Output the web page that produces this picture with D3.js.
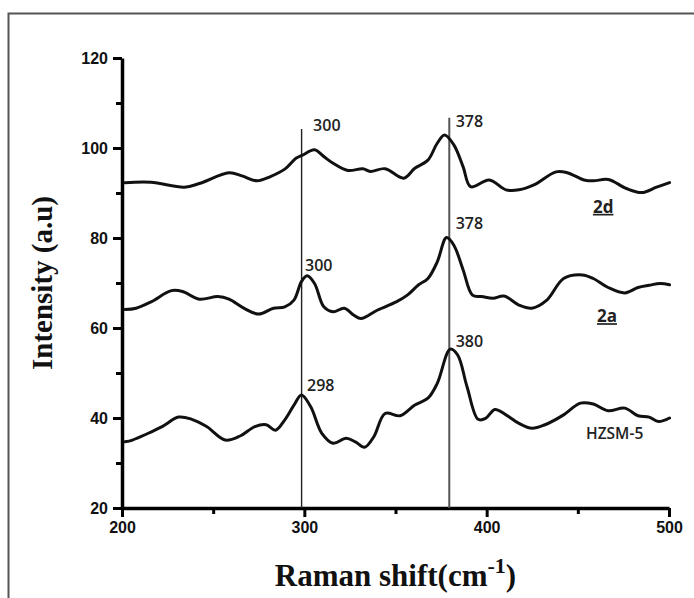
<!DOCTYPE html>
<html lang="en">
<head>
<meta charset="UTF-8">
<title>Raman spectra</title>
<script src="https://cdn.jsdelivr.net/npm/d3@7"></script>
<style>
  body { margin: 0; background: #fff; }
  .tick text { font-family: "Liberation Sans", Arial, sans-serif; font-weight: bold; font-size: 16px; fill: #111; }
  .ann { font-family: "Open Sans", "Noto Sans", sans-serif; font-weight: 600; font-size: 16px; fill: #222; }
  .ttl { font-family: "Liberation Serif", "Times New Roman", serif; font-weight: bold; fill: #111; }
</style>
</head>
<body>
<svg width="694" height="598"></svg>
<script>
// spectra: [Raman shift, intensity]
var hzsm5 = [[201.6,34.7],[205.7,35.1],[213.8,36.5],[222,38.1],[231.1,40.2],[238.3,39.7],[246.4,38.1],[256.6,35.1],[264.8,36],[272.9,38.1],[279.1,38.5],[284.2,37.3],[289.3,39.6],[294.4,42.9],[298.4,45.1],[303.5,42.5],[309.6,36.6],[315.8,34.4],[322.9,35.5],[328,34.7],[333.1,33.5],[338.2,35.9],[344.3,41],[352.5,40.5],[360.6,42.9],[367.8,44.4],[372.9,47.7],[380,55.3],[384.1,54],[389.2,47],[395.3,39.7],[399.4,39.9],[404.5,41.9],[410.6,40.7],[417.7,38.8],[424.9,37.7],[432,38.5],[442.2,40.7],[451.4,43.3],[458.5,43.1],[466.6,41.6],[475.8,42.2],[483,40.5],[489.1,40.2],[494.2,39.2],[500.3,40]];
var s2a = [[201.6,64.1],[207.7,64.4],[215.9,65.8],[227.1,68.3],[233.2,68.1],[242.4,66.4],[252.6,67],[258.7,66.4],[266.8,64.4],[275,63.1],[283.1,64.4],[289.3,64.7],[294.3,66.2],[298.4,70.3],[301.5,71.6],[305.6,69.9],[310.7,64.7],[315.8,63.6],[321.9,64.4],[327,62.9],[331.1,62.1],[340.2,64],[350.4,65.8],[356.5,67.3],[362.7,69.6],[367.8,71],[372.9,74.7],[378,80.1],[382,78.4],[387.1,72.9],[392.2,67.3],[397.3,67],[403.5,66.6],[409.5,67.1],[417.7,65.1],[424.8,64.4],[433,66.2],[442.2,71],[452.4,71.8],[458.5,71],[466.6,69],[475.8,67.8],[483,69],[489.1,69.5],[495.2,69.9],[500.3,69.6]];
var s2d = [[201.6,92.3],[215.9,92.4],[234.2,91.3],[242.4,92.1],[258.7,94.5],[265.8,93.8],[274,92.7],[281.1,93.6],[289.3,95.3],[295.4,97.7],[299,98.4],[305.6,99.6],[310.7,98.1],[315.8,96.6],[323.9,95],[332.1,95.4],[336.2,94.8],[344.3,95.4],[354.5,93.3],[360.6,95.5],[367.8,97.3],[372.8,101],[376.9,102.9],[382,100.7],[387.1,95.8],[391.2,91.4],[401.4,92.9],[410.6,90.7],[417.7,90.7],[425.9,91.8],[438.1,94.7],[444.2,94.5],[453.4,92.9],[458.5,92.7],[466.7,93],[476.6,91],[485,90.1],[493.2,91.3],[500.3,92.3]];

var xMajor = [200, 300, 400, 500];
var xMinor = [250, 350, 450];
var yMajor = [20, 40, 60, 80, 100, 120];
var yMinor = [30, 50, 70, 90, 110];

// reference lines: [x, top intensity]
var refLines = [[298.5, 104.2], [379.5, 106.7]];
// peak labels: [text, x, y]
var peakLabels = [["300", 304.8, 103.8], ["378", 383, 104.7], ["300", 300.4, 72.7], ["378", 383, 82], ["298", 301.5, 46], ["380", 383, 55.8]];
// sample names: [text, x, y, underlined]
var names = [["2d", 458.3, 85.6, true], ["2a", 460.5, 61.3, true], ["HZSM-5", 454.5, 35.3, false]];

var svg = d3.select('svg');

// outer frame (cropped on right and bottom)
svg.append('path')
    .attr('d', 'M8.5,598V13.5H694')
    .attr('fill', 'none')
    .attr('stroke', '#555')
    .attr('stroke-width', 2);

var x = d3.scaleLinear().domain([200, 500]).range([122, 669]);
var y = d3.scaleLinear().domain([20, 120]).range([508, 58]);

// minor ticks first
svg.append('g')
    .attr('transform', 'translate(122,0)')
    .call(d3.axisLeft(y).tickValues(yMinor).tickSize(6).tickFormat(''))
    .call(g => g.select('.domain').remove())
    .call(g => g.selectAll('line').attr('stroke-width', 3));
svg.append('g')
    .attr('transform', 'translate(0,508)')
    .call(d3.axisBottom(x).tickValues(xMinor).tickSize(6).tickFormat(''))
    .call(g => g.select('.domain').remove())
    .call(g => g.selectAll('line').attr('stroke-width', 3));

var yAxis = svg.append('g')
    .attr('transform', 'translate(122,0)')
    .call(d3.axisLeft(y).tickValues(yMajor).tickSize(9).tickSizeOuter(0).tickPadding(5));
var xAxis = svg.append('g')
    .attr('transform', 'translate(0,508)')
    .call(d3.axisBottom(x).tickValues(xMajor).tickSize(9).tickSizeOuter(0).tickPadding(5));
[yAxis, xAxis].forEach(function (g) {
    g.select('.domain').attr('stroke-width', 3.5);
    g.selectAll('.tick line').attr('stroke-width', 3);
});
xAxis.selectAll('.tick text').attr('font-size', 16).attr('font-weight', 'bold');
yAxis.selectAll('.tick text').attr('font-size', 16).attr('font-weight', 'bold');

// reference lines
svg.selectAll('.ref').data(refLines).enter().append('line')
    .attr('class', 'ref')
    .attr('x1', d => x(d[0])).attr('x2', d => x(d[0]))
    .attr('y1', d => y(d[1])).attr('y2', y(20))
    .attr('stroke', (d, i) => i ? '#555' : '#222')
    .attr('stroke-width', (d, i) => i ? 2 : 1.4);

var line = d3.line()
    .x(d => x(d[0]))
    .y(d => y(d[1]))
    .curve(d3.curveCatmullRom.alpha(0.5));

[hzsm5, s2a, s2d].forEach(function (s) {
    svg.append('path')
        .datum(s)
        .attr('fill', 'none')
        .attr('stroke', '#111')
        .attr('stroke-width', 3)
        .attr('stroke-linejoin', 'round')
        .attr('stroke-linecap', 'round')
        .attr('d', line);
});

svg.selectAll('.ann.pk').data(peakLabels).enter().append('text')
    .attr('class', 'ann pk')
    .attr('x', d => x(d[1]))
    .attr('y', d => y(d[2]))
    .text(d => d[0]);

svg.selectAll('.ann.nm').data(names).enter().append('text')
    .attr('class', 'ann nm')
    .attr('x', d => x(d[1]))
    .attr('y', d => y(d[2]))
    .style('font-size', d => d[3] ? '17px' : '15.5px')
    .style('font-weight', d => d[3] ? 'bold' : '600')
    .style('text-decoration', d => d[3] ? 'underline' : 'none')
    .text(d => d[0]);

// axis titles
svg.append('text')
    .attr('class', 'ttl')
    .attr('transform', 'translate(52,' + y(70) + ') rotate(-90)')
    .attr('text-anchor', 'middle')
    .attr('font-size', 29)
    .text('Intensity (a.u)');

var xt = svg.append('text')
    .attr('class', 'ttl')
    .attr('x', (x.range()[0] + x.range()[1]) / 2)
    .attr('y', 586)
    .attr('text-anchor', 'middle')
    .attr('font-size', 31);
xt.append('tspan').text('Raman shift(cm');
xt.append('tspan').attr('dy', -13).attr('font-size', 22).text('-1');
xt.append('tspan').attr('dy', 13).text(')');
</script>
</body>
</html>
